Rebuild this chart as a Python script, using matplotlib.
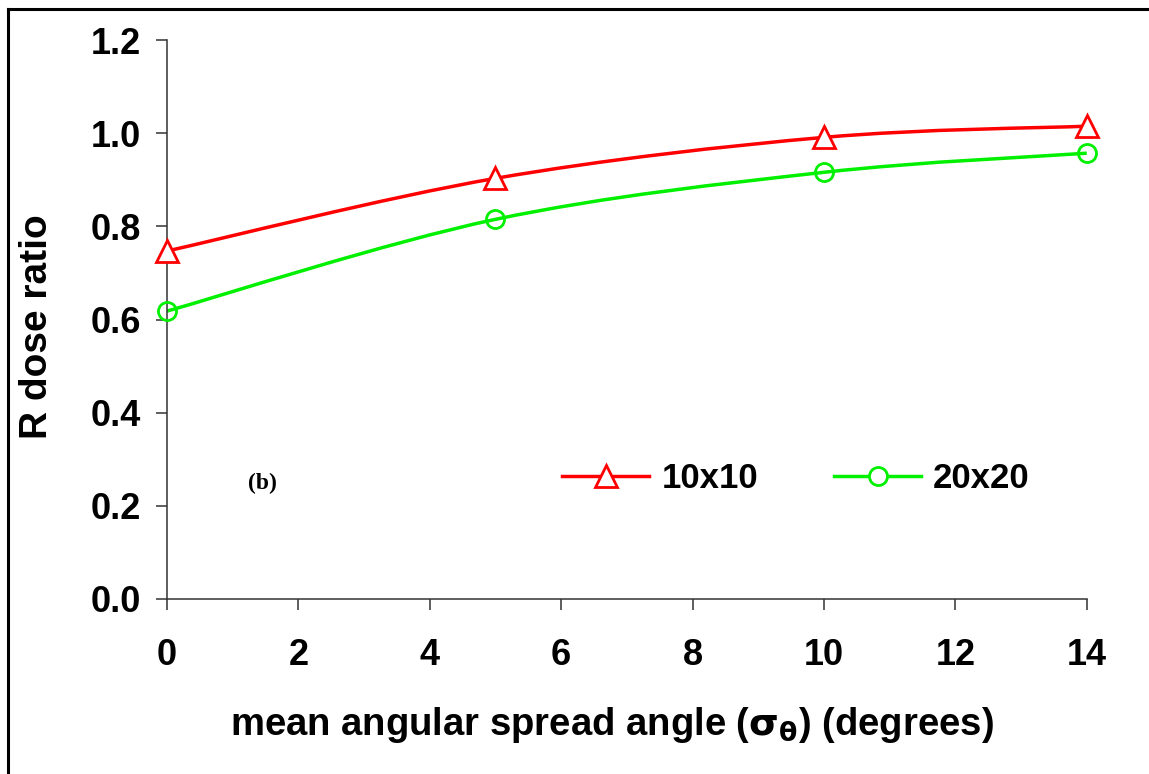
import numpy as np
import matplotlib
matplotlib.use("Agg")
import matplotlib.pyplot as plt
from matplotlib.path import Path
from matplotlib.patches import PathPatch
from matplotlib.lines import Line2D

# data
angles = [0, 5, 10, 14]
ratio_10x10 = [0.747, 0.903, 0.991, 1.015]
ratio_20x20 = [0.618, 0.815, 0.916, 0.957]
series_labels = ["10x10", "20x20"]
xticks = [0, 2, 4, 6, 8, 10, 12, 14]
yticks = [0.0, 0.2, 0.4, 0.6, 0.8, 1.0, 1.2]

plt.rcParams['font.family'] = ['Liberation Sans', 'DejaVu Sans']

fig = plt.figure(figsize=(11.49, 7.74), dpi=100)
ax = fig.add_axes([0.1453, 0.2261, 0.8005, 0.7222])

def smooth_path(xs, ys):
    # Excel-like smoothed line: cubic Bezier segments through the data points
    xs = np.asarray(xs, float); ys = np.asarray(ys, float)
    n = len(xs)
    verts = [(xs[0], ys[0])]
    codes = [Path.MOVETO]
    for i in range(n - 1):
        p0 = (xs[i - 1], ys[i - 1]) if i > 0 else (xs[i], ys[i])
        p1 = (xs[i], ys[i])
        p2 = (xs[i + 1], ys[i + 1])
        p3 = (xs[i + 2], ys[i + 2]) if i + 2 < n else p2
        c1 = (p1[0] + (p2[0] - p0[0]) / 6, p1[1] + (p2[1] - p0[1]) / 6)
        c2 = (p2[0] - (p3[0] - p1[0]) / 6, p2[1] - (p3[1] - p1[1]) / 6)
        verts += [c1, c2, p2]
        codes += [Path.CURVE4] * 3
    return Path(verts, codes)

red = '#ff0000'
green = '#00f000'
lw = 2.5
for ys, col in [(ratio_10x10, red), (ratio_20x20, green)]:
    ax.add_patch(PathPatch(smooth_path(angles, ys), facecolor='none',
                           edgecolor=col, lw=lw, zorder=2))

ax.plot(angles, ratio_10x10, linestyle='none', marker='^', ms=16,
        mfc='white', mec=red, mew=2.0, zorder=3, clip_on=False)
ax.plot(angles, ratio_20x20, linestyle='none', marker='o', ms=13,
        mfc='none', mec=green, mew=2.0, zorder=3, clip_on=False)

ax.set_xlim(0, 14)
ax.set_ylim(0, 1.2)
ax.set_xticks(xticks)
ax.set_yticks(yticks)
ax.set_xticklabels([str(v) for v in xticks])
ax.set_yticklabels([f"{v:.1f}" for v in yticks])
for s in ['top', 'right']:
    ax.spines[s].set_visible(False)
for s in ['left', 'bottom']:
    ax.spines[s].set_linewidth(1.1)
    ax.spines[s].set_color('#333333')
ax.tick_params(axis='both', direction='out', length=8, width=1.1, color='#333333',
               labelsize=26)
ax.tick_params(axis='x', pad=20)
ax.tick_params(axis='y', pad=11)
for lab in ax.get_xticklabels() + ax.get_yticklabels():
    lab.set_fontweight('bold')

ax.set_xlabel(r'mean angular spread angle ($\mathbf{\sigma_\theta}$) (degrees)',
              fontsize=27.5, fontweight='bold', va='center', ha='center')
ax.xaxis.set_label_coords(0.4837, -0.2254)
ax.set_ylabel('R dose ratio', fontsize=28, fontweight='bold', va='center', ha='center')
ax.yaxis.set_label_coords(-0.1413, 0.4875)

ax.text(1.46, 0.249, '(b)', fontsize=17, fontweight='bold',
        family='Liberation Serif', ha='center', va='center')

handles = [Line2D([0], [0], color=red, lw=lw, marker='^', ms=16, mfc='white',
                  mec=red, mew=2.0),
           Line2D([0], [0], color=green, lw=lw, marker='o', ms=13, mfc='white',
                  mec=green, mew=2.0)]
leg = ax.legend(handles, series_labels, ncol=2, frameon=False,
                loc='center', bbox_to_anchor=(0.684, 0.216),
                handlelength=2.5, columnspacing=2.2, handletextpad=0.35,
                prop={'weight': 'bold', 'size': 25})

# partial outer frame (left and top edges only)
fig.add_artist(Line2D([0.0070, 0.0070], [0.0, 0.9890], transform=fig.transFigure,
                      color='black', lw=2.2, solid_capstyle='projecting'))
fig.add_artist(Line2D([0.0070, 1.0], [0.9890, 0.9890], transform=fig.transFigure,
                      color='black', lw=2.2, solid_capstyle='projecting'))

fig.savefig('out.png', dpi=100)
